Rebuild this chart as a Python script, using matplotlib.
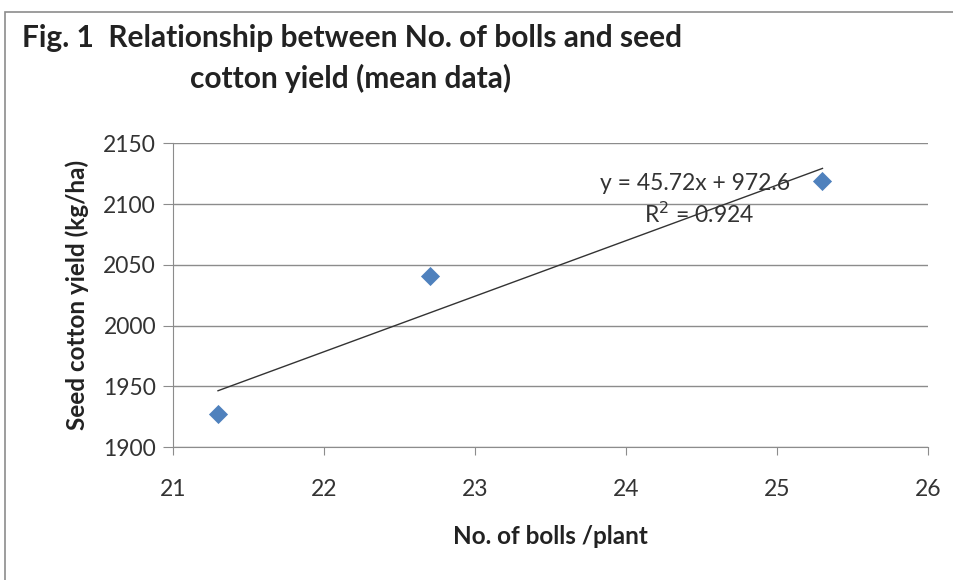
import numpy as np
import matplotlib.pyplot as plt
from matplotlib.patches import Rectangle

# mean data
bolls = [21.3, 22.7, 25.3]
yield_kg = [1927, 2041, 2119]
slope, intercept = 45.72, 972.6
xticks = [21, 22, 23, 24, 25, 26]
yticks = [1900, 1950, 2000, 2050, 2100, 2150]

plt.rcParams['font.family'] = ['Lato', 'DejaVu Sans']

fig = plt.figure(figsize=(9.54, 5.80), dpi=100)
ax = fig.add_axes([0.181, 0.229, 0.792, 0.524])

# gray frame of the chart area (cropped at right/bottom)
fig.patches.append(Rectangle((5/954, -0.1), 1.1, 1 - 12/580 + 0.1, transform=fig.transFigure,
                             fill=False, edgecolor='#8c8c8c', linewidth=1.2))

ax.scatter(bolls, yield_kg, marker='D', s=95, color='#4F81BD', zorder=3, linewidths=0)
xs = np.array([min(bolls), max(bolls)])
ax.plot(xs, slope * xs + intercept, color='#333333', linewidth=1.0, zorder=2)

ax.set_xlim(21, 26)
ax.set_ylim(1900, 2150)
ax.set_xticks(xticks)
ax.set_yticks(yticks)
ax.grid(axis='y', color='#8c8c8c', linewidth=1.0)
ax.set_axisbelow(True)
for s in ['top', 'right']:
    ax.spines[s].set_visible(False)
ax.spines['bottom'].set_color('#8c8c8c')
ax.spines['left'].set_color('#8c8c8c')
ax.tick_params(axis='x', direction='out', length=6, color='#8c8c8c', labelsize=16.5,
               labelcolor='#333333', pad=17)
ax.tick_params(axis='y', length=7, color='#8c8c8c', labelsize=16.5, labelcolor='#333333', pad=5)

ax.text(0.692, 0.868, 'y = 45.72x + 972.6', transform=ax.transAxes, ha='center', va='center',
        fontsize=16.5, color='#333333')
ax.text(0.697, 0.766, 'R$^2$ = 0.924', transform=ax.transAxes, ha='center', va='center',
        fontsize=16.5, color='#333333')

ax.set_xlabel('No. of bolls /plant', fontsize=17.5, fontweight='bold', labelpad=18, color='#222222')
ax.set_ylabel('Seed cotton yield (kg/ha)', fontsize=17.5, fontweight='bold', labelpad=10, color='#222222')

fig.text(22/954, 1 - 38/580, 'Fig. 1  Relationship between No. of bolls and seed', fontsize=21.5,
         fontweight='bold', va='center', ha='left', color='#222222')
fig.text(190/954, 1 - 78/580, 'cotton yield (mean data)', fontsize=21.5,
         fontweight='bold', va='center', ha='left', color='#222222')

fig.savefig('out.png', dpi=100)
